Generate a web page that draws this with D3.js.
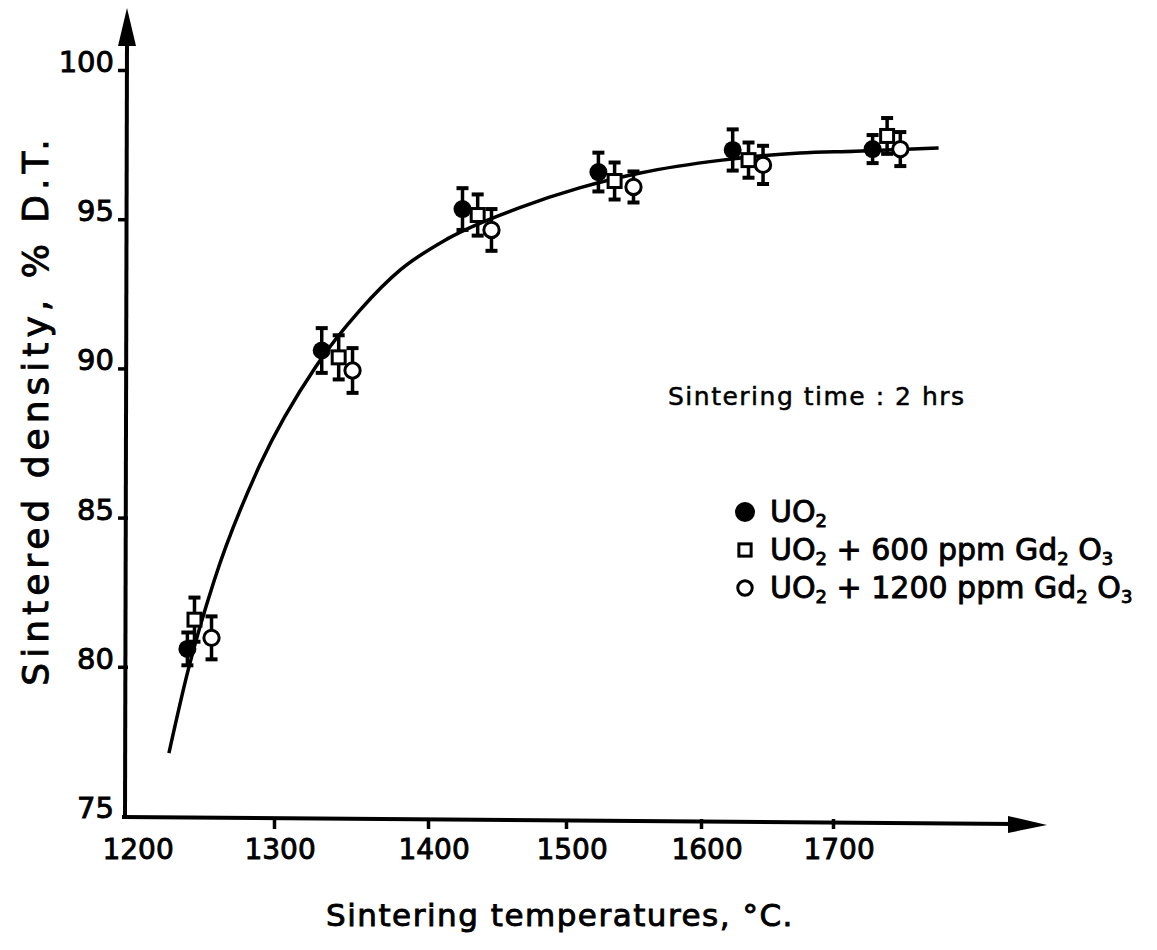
<!DOCTYPE html>
<html>
<head>
<meta charset="utf-8">
<script src="https://cdn.jsdelivr.net/npm/d3@7"></script>
<style>
  body { margin: 0; background: #fff; }
  svg { display: block; }
  text { font-family: "DejaVu Sans", sans-serif; fill: #000; }
  .tick text { stroke: #000; stroke-width: 0.9; }
  .lbl { stroke: #000; stroke-width: 0.9; }
</style>
</head>
<body>
<div id="chart"></div>
<script>
// temperatures (°C) and densities (% D.T.)
const xTicks = [1200, 1300, 1400, 1500, 1600, 1700];
const yTicks = [75, 80, 85, 90, 95, 100];

const tempUO2 = [1239, 1331, 1425, 1524, 1624, 1730];
const densUO2 = [80.6, 90.6, 95.34, 96.58, 97.32, 97.35];
const errUO2 = [0.55, 0.75, 0.7, 0.65, 0.69, 0.47];

const temp600 = [1244, 1342, 1436, 1536, 1636, 1741];
const dens600 = [81.58, 90.37, 95.14, 96.28, 96.98, 97.79];
const err600 = [0.74, 0.74, 0.69, 0.62, 0.59, 0.6];

const temp1200 = [1256, 1351, 1446, 1550, 1647, 1751];
const dens1200 = [80.97, 89.93, 94.64, 96.08, 96.82, 97.35];
const err1200 = [0.72, 0.75, 0.7, 0.52, 0.64, 0.57];

// hand-drawn fitted curve
const curveTemp = [1226, 1239, 1258, 1290, 1327, 1356, 1382, 1414, 1466, 1510, 1555, 1616, 1675, 1717, 1780];
const curveDens = [77.11, 79.79, 82.91, 86.76, 90.05, 91.96, 93.3, 94.34, 95.38, 96.05, 96.55, 96.98, 97.22, 97.28, 97.39];

// legend labels, split as [text, subscript] pieces
const seriesNames = [
  [["UO", false], ["2", true]],
  [["UO", false], ["2", true], [" + 600 ppm Gd", false], ["2", true], [" O", false], ["3", true]],
  [["UO", false], ["2", true], [" + 1200 ppm Gd", false], ["2", true], [" O", false], ["3", true]],
];

const width = 1157, height = 950;

const svg = d3.select("#chart").append("svg")
  .attr("width", width)
  .attr("height", height);

// tick spacing on the original drawing is uneven, so the x scale is piecewise
const x = d3.scaleLinear()
  .domain(xTicks)
  .range([132, 274, 428, 566, 701, 833]);
const y = d3.scaleLinear().domain([75, 100]).range([816, 70]);

const originX = 125;

// axes lines with arrows
svg.append("line")
  .attr("x1", originX).attr("y1", y(75) + 2)
  .attr("x2", originX + 2).attr("y2", 40)
  .attr("stroke", "#000").attr("stroke-width", 4);
svg.append("path")
  .attr("d", `M${originX + 2},8 L${originX - 7},46 L${originX + 11},46 Z`)
  .attr("fill", "#000");

svg.append("line")
  .attr("x1", originX - 3).attr("y1", y(75) + 1)
  .attr("x2", 1015).attr("y2", y(75) + 8)
  .attr("stroke", "#000").attr("stroke-width", 4);
svg.append("path")
  .attr("d", `M1047,${y(75) + 9} L1008,${y(75)} L1008,${y(75) + 17} Z`)
  .attr("fill", "#000");

const xAxis = svg.append("g")
  .attr("transform", `translate(0,${y(75) + 3})`)
  .call(d3.axisBottom(x).tickValues(xTicks).tickSize(10).tickPadding(10).tickFormat(d3.format("d")));
xAxis.select(".domain").remove();
xAxis.selectAll(".tick line").attr("stroke-width", 3.5);
xAxis.selectAll(".tick").filter((d) => d === 1200).select("line").remove();
xAxis.selectAll(".tick text").attr("font-size", 28).attr("dx", "0.2em");

const yAxis = svg.append("g")
  .attr("transform", `translate(${originX + 3},0)`)
  .call(d3.axisLeft(y).tickValues(yTicks).tickSize(10).tickPadding(4));
yAxis.select(".domain").remove();
yAxis.selectAll(".tick line").attr("stroke-width", 3.5);
yAxis.selectAll(".tick").filter((d) => d === 75).select("line").remove();
yAxis.selectAll(".tick text").attr("font-size", 29).attr("dy", "0.05em");

// axis titles
svg.append("text")
  .attr("class", "lbl")
  .attr("transform", `translate(48,${410}) rotate(-90)`)
  .attr("text-anchor", "middle")
  .attr("font-size", 36)
  .attr("letter-spacing", 5)
  .text("Sintered density, % D.T.");

svg.append("text")
  .attr("class", "lbl")
  .attr("x", 560).attr("y", 926)
  .attr("text-anchor", "middle")
  .attr("font-size", 31)
  .attr("letter-spacing", 1.5)
  .text("Sintering temperatures, °C.");

svg.append("text")
  .attr("class", "lbl")
  .attr("x", 668).attr("y", 405)
  .attr("font-size", 25)
  .attr("letter-spacing", 1.5)
  .style("stroke-width", 0.5)
  .text("Sintering time : 2 hrs");

// curve
const line = d3.line()
  .x((d) => x(d[0]))
  .y((d) => y(d[1]))
  .curve(d3.curveMonotoneX);
svg.append("path")
  .datum(curveTemp.map((t, i) => [t, curveDens[i]]))
  .attr("d", line)
  .attr("fill", "none")
  .attr("stroke", "#000")
  .attr("stroke-width", 3.5);

// data series
const series = [
  { name: seriesNames[0], temp: tempUO2, dens: densUO2, err: errUO2, shape: "filled" },
  { name: seriesNames[1], temp: temp600, dens: dens600, err: err600, shape: "square" },
  { name: seriesNames[2], temp: temp1200, dens: dens1200, err: err1200, shape: "open" },
];

function drawMarker(g, shape, size) {
  if (shape === "filled") {
    g.append("circle").attr("r", size).attr("fill", "#000");
  } else if (shape === "square") {
    g.append("rect")
      .attr("x", -size * 0.72).attr("y", -size * 0.72)
      .attr("width", size * 1.44).attr("height", size * 1.44)
      .attr("fill", "#fff").attr("stroke", "#000").attr("stroke-width", 3);
  } else {
    g.append("circle").attr("r", size * 0.85)
      .attr("fill", "#fff").attr("stroke", "#000").attr("stroke-width", 3);
  }
}

series.forEach((s) => {
  const pts = s.temp.map((t, i) => ({ t, v: s.dens[i], e: s.err[i] }));
  const g = svg.append("g");
  const p = g.selectAll("g.pt")
    .data(pts)
    .join("g")
    .attr("class", "pt")
    .attr("transform", (d) => `translate(${x(d.t)},0)`);
  p.append("line")
    .attr("y1", (d) => y(d.v + d.e)).attr("y2", (d) => y(d.v - d.e))
    .attr("stroke", "#000").attr("stroke-width", 3.5);
  p.append("line")
    .attr("x1", -6).attr("x2", 6)
    .attr("y1", (d) => y(d.v + d.e)).attr("y2", (d) => y(d.v + d.e))
    .attr("stroke", "#000").attr("stroke-width", 4);
  p.append("line")
    .attr("x1", -6).attr("x2", 6)
    .attr("y1", (d) => y(d.v - d.e)).attr("y2", (d) => y(d.v - d.e))
    .attr("stroke", "#000").attr("stroke-width", 4);
  p.each(function (d) {
    const m = d3.select(this).append("g").attr("transform", `translate(0,${y(d.v)})`);
    drawMarker(m, s.shape, 9);
  });
});

// legend
const legend = svg.append("g").attr("transform", "translate(745,512)");
series.forEach((s, i) => {
  const row = legend.append("g").attr("transform", `translate(0,${i * 38})`);
  drawMarker(row, s.shape, i === 0 ? 10 : 8.5);
  const txt = row.append("text")
    .attr("class", "lbl")
    .attr("x", 25).attr("y", 10)
    .attr("font-size", 30);
  s.name.forEach(([part, isSub]) => {
    txt.append("tspan")
      .attr("font-size", isSub ? 18 : 30)
      .attr("baseline-shift", isSub ? "-25%" : null)
      .text(part);
  });
});
</script>
</body>
</html>
